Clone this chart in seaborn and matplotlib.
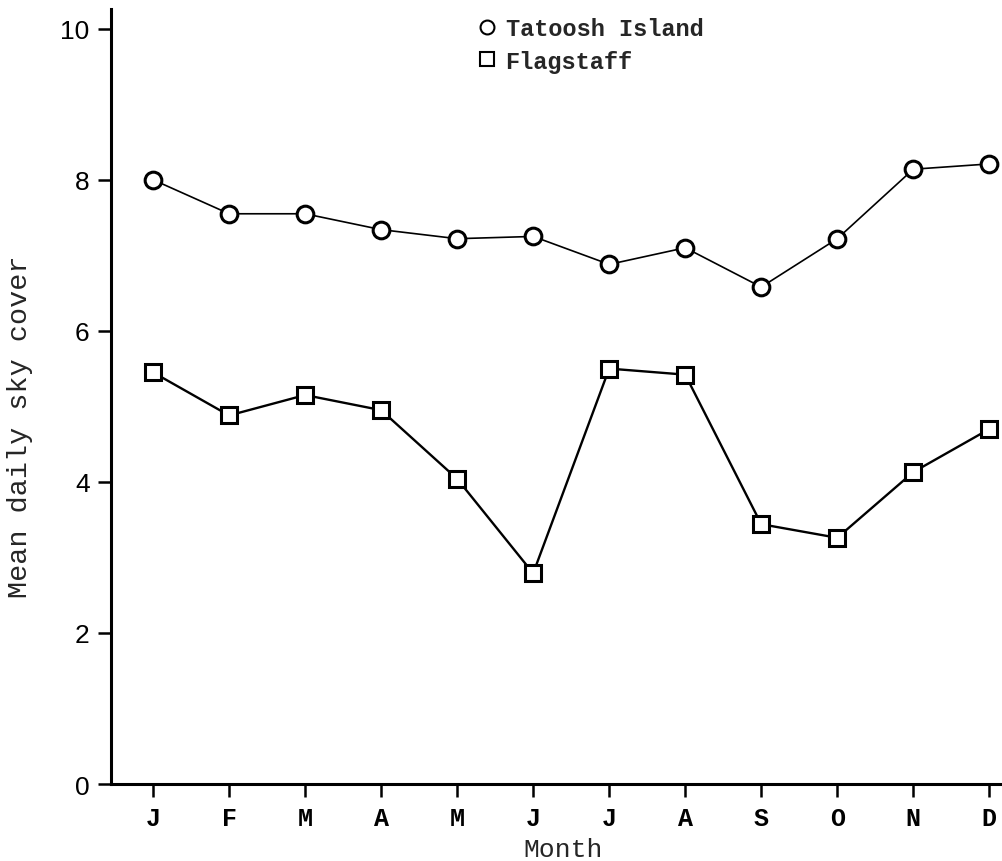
import matplotlib
matplotlib.use("Agg")
import matplotlib.pyplot as plt
from matplotlib.lines import Line2D
import numpy as np
import pandas as pd
import seaborn as sns

# Monthly mean daily sky cover (tenths)
months = ["J", "F", "M", "A", "M", "J", "J", "A", "S", "O", "N", "D"]
tatoosh = [8.0, 7.55, 7.55, 7.34, 7.22, 7.25, 6.88, 7.10, 6.58, 7.22, 8.14, 8.21]
flagstaff = [5.45, 4.88, 5.15, 4.95, 4.04, 2.79, 5.50, 5.42, 3.44, 3.26, 4.13, 4.70]
yticks = [0, 2, 4, 6, 8, 10]

sns.set_theme(style="ticks")
plt.rcParams["font.family"] = ["Liberation Mono", "DejaVu Sans"]

idx = np.arange(len(months))
df = pd.DataFrame({
    "month": np.concatenate([idx, idx]),
    "cover": tatoosh + flagstaff,
    "station": ["Tatoosh Island"] * 12 + ["Flagstaff"] * 12,
})

fig = plt.figure(figsize=(10.03, 8.62), dpi=100)
ax = fig.add_axes([0.1107, 0.0893, 0.8893, 0.899])

sns.lineplot(data=df[df.station == "Tatoosh Island"], x="month", y="cover",
             ax=ax, color="black", linewidth=1.2, marker="o", markersize=12,
             markerfacecolor="white", markeredgecolor="black",
             markeredgewidth=2.2, legend=False)
sns.lineplot(data=df[df.station == "Flagstaff"], x="month", y="cover",
             ax=ax, color="black", linewidth=1.7, marker="s", markersize=11,
             markerfacecolor="white", markeredgecolor="black",
             markeredgewidth=2.2, legend=False)

ax.set_xlim(-0.553, 11.18)
ax.set_ylim(0, 10.26)
ax.set_xticks(idx)
ax.set_xticklabels(months, fontsize=18, fontweight="bold",
                   family=["Liberation Mono"])
ax.set_yticks(yticks)
ax.set_yticklabels([str(v) for v in yticks], fontsize=19,
                   family=["Liberation Sans"])

for side in ["top", "right"]:
    ax.spines[side].set_visible(False)
for side in ["left", "bottom"]:
    ax.spines[side].set_linewidth(2.2)
    ax.spines[side].set_color("black")

ax.tick_params(axis="y", direction="out", length=9.5, width=1.8, pad=6,
               colors="black")
ax.tick_params(axis="x", direction="out", length=9, width=1.8, pad=7,
               colors="black")

ax.set_xlabel("Month", fontsize=19)
ax.xaxis.set_label_coords(0.507, -0.068)
ax.set_ylabel("Mean daily sky cover", fontsize=20.5)
ax.yaxis.set_label_coords(-0.088, 0.462)

handles = [
    Line2D([], [], linestyle="none", marker="o", markersize=10,
           markerfacecolor="white", markeredgecolor="black",
           markeredgewidth=1.5, label="Tatoosh Island"),
    Line2D([], [], linestyle="none", marker="s", markersize=10,
           markerfacecolor="white", markeredgecolor="black",
           markeredgewidth=1.5, label="Flagstaff"),
]
fig.legend(handles=handles, loc="upper left", bbox_to_anchor=(0.457, 1.004),
           frameon=False, handlelength=0.6, handletextpad=0.5,
           labelspacing=0.42, prop={"family": "Liberation Mono",
                                    "weight": "bold", "size": 17})

fig.savefig("out.png", dpi=100, facecolor="white")
